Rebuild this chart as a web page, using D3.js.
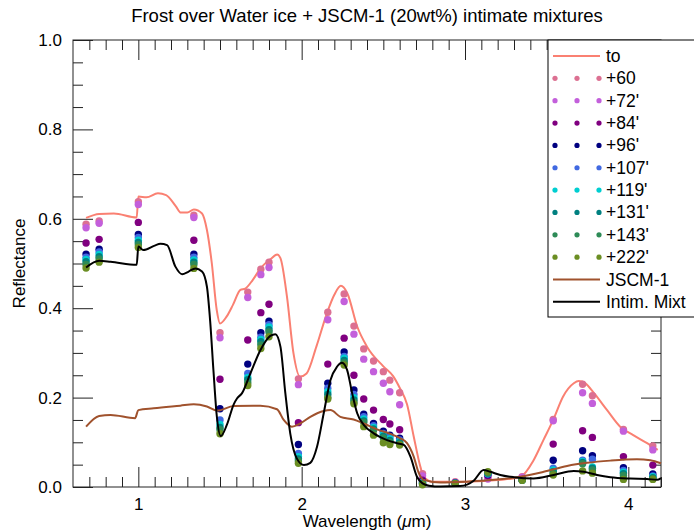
<!DOCTYPE html>
<html>
<head>
<meta charset="utf-8">
<script src="https://cdn.jsdelivr.net/npm/d3@7"></script>
<style>
    body { margin: 0; background: #fff; }
    svg { font-family: "Liberation Sans", Arial, sans-serif; }
</style>
</head>
<body>
<script>
// wavelengths (micron) of the frost measurements
var dotWaves = [0.68, 0.76, 1.00, 1.34, 1.50, 1.67, 1.75, 1.80, 1.98, 2.16, 2.26, 2.32, 2.38,
    2.44, 2.50, 2.54, 2.60, 2.74, 2.94, 3.14, 3.35, 3.54, 3.72, 3.78, 3.97, 4.15];

var ref60  = [0.588, 0.595, 0.638, 0.608, 0.345, 0.436, 0.487, 0.503, 0.242, 0.391, 0.432, 0.360, 0.309,
    0.282, 0.258, 0.239, 0.211, 0.030, 0.012, 0.020, 0.023, 0.151, 0.230, 0.204, 0.129, 0.092];
var ref72  = [0.580, 0.590, 0.632, 0.603, 0.334, 0.424, 0.475, 0.491, 0.229, 0.374, 0.415, 0.342, 0.286,
    0.258, 0.232, 0.213, 0.184, 0.025, 0.010, 0.018, 0.022, 0.148, 0.211, 0.187, 0.125, 0.083];
var ref84  = [0.546, 0.554, 0.592, 0.552, 0.241, 0.329, 0.390, 0.409, 0.144, 0.275, 0.333, 0.250, 0.197,
    0.172, 0.151, 0.141, 0.128, 0.015, 0.009, 0.025, 0.017, 0.096, 0.126, 0.111, 0.068, 0.049];
var ref96  = [0.521, 0.532, 0.565, 0.521, 0.175, 0.275, 0.345, 0.371, 0.095, 0.232, 0.302, 0.217, 0.163,
    0.142, 0.125, 0.116, 0.109, 0.012, 0.009, 0.028, 0.016, 0.060, 0.081, 0.070, 0.043, 0.029];
var ref107 = [0.514, 0.526, 0.558, 0.514, 0.150, 0.254, 0.335, 0.363, 0.075, 0.221, 0.292, 0.207, 0.157,
    0.137, 0.120, 0.112, 0.105, 0.010, 0.009, 0.029, 0.016, 0.042, 0.060, 0.062, 0.037, 0.025];
var ref119 = [0.509, 0.520, 0.552, 0.508, 0.140, 0.245, 0.330, 0.358, 0.068, 0.213, 0.288, 0.200, 0.152,
    0.133, 0.117, 0.108, 0.102, 0.009, 0.008, 0.030, 0.016, 0.038, 0.057, 0.045, 0.033, 0.023];
var ref131 = [0.504, 0.515, 0.547, 0.503, 0.133, 0.240, 0.325, 0.352, 0.063, 0.207, 0.283, 0.195, 0.148,
    0.130, 0.113, 0.104, 0.099, 0.008, 0.008, 0.031, 0.015, 0.034, 0.055, 0.042, 0.030, 0.021];
var ref143 = [0.498, 0.510, 0.542, 0.498, 0.128, 0.233, 0.318, 0.347, 0.058, 0.200, 0.278, 0.190, 0.145,
    0.127, 0.110, 0.100, 0.096, 0.007, 0.008, 0.032, 0.015, 0.030, 0.052, 0.038, 0.026, 0.019];
var ref222 = [0.490, 0.503, 0.536, 0.489, 0.119, 0.227, 0.310, 0.336, 0.053, 0.197, 0.273, 0.186, 0.135,
    0.116, 0.099, 0.095, 0.094, 0.005, 0.008, 0.034, 0.015, 0.027, 0.036, 0.031, 0.017, 0.017];

var dotNames = ["+60", "+72'", "+84'", "+96'", "+107'", "+119'", "+131'", "+143'", "+222'"];
var dotColors = ["#dc7092", "#c35fdb", "#800080", "#000080", "#4169e1", "#00ced1", "#008080", "#2e8b57", "#6b8e23"];
var dotValues = [ref60, ref72, ref84, ref96, ref107, ref119, ref131, ref143, ref222];

// continuous spectra
var toWaves = [0.68, 0.76, 0.85, 0.99, 1.0, 1.05, 1.12, 1.17, 1.23, 1.26, 1.30, 1.34, 1.39, 1.42, 1.45,
    1.48, 1.50, 1.54, 1.58, 1.625, 1.655, 1.70, 1.75, 1.81, 1.85, 1.87, 1.91, 1.95, 1.99, 2.03, 2.09,
    2.155, 2.20, 2.24, 2.28, 2.34, 2.40, 2.50, 2.56, 2.60, 2.645, 2.686, 2.727, 2.747, 2.80, 3.01, 3.22,
    3.34, 3.42, 3.48, 3.54, 3.60, 3.666, 3.696, 3.737, 3.79, 3.87, 3.95, 4.03, 4.115, 4.18];
var toRefl = [0.602, 0.611, 0.612, 0.603, 0.650, 0.648, 0.657, 0.653, 0.628, 0.614, 0.614, 0.621, 0.612,
    0.575, 0.500, 0.396, 0.366, 0.381, 0.408, 0.441, 0.444, 0.463, 0.490, 0.510, 0.520, 0.512, 0.426,
    0.299, 0.247, 0.254, 0.314, 0.389, 0.430, 0.450, 0.433, 0.359, 0.314, 0.270, 0.248, 0.222, 0.185,
    0.113, 0.045, 0.023, 0.012, 0.012, 0.016, 0.023, 0.060, 0.105, 0.150, 0.202, 0.232, 0.237, 0.232,
    0.210, 0.172, 0.135, 0.116, 0.098, 0.083];

var jscWaves = [0.68, 0.76, 0.83, 0.98, 1.0, 1.094, 1.257, 1.339, 1.42, 1.482, 1.584, 1.706, 1.747, 1.849,
    1.89, 1.94, 1.99, 2.053, 2.135, 2.176, 2.237, 2.318, 2.38, 2.462, 2.543, 2.604, 2.645, 2.686, 2.717,
    2.747, 2.85, 3.01, 3.176, 3.339, 3.482, 3.625, 3.747, 3.89, 4.053, 4.135, 4.2];
var jscRefl = [0.135, 0.159, 0.161, 0.154, 0.172, 0.176, 0.182, 0.185, 0.180, 0.171, 0.181, 0.182, 0.182,
    0.174, 0.150, 0.135, 0.142, 0.157, 0.170, 0.172, 0.157, 0.151, 0.142, 0.129, 0.119, 0.109, 0.098,
    0.068, 0.031, 0.016, 0.010, 0.012, 0.016, 0.023, 0.034, 0.047, 0.054, 0.059, 0.062, 0.060, 0.053];

var mixWaves = [0.68, 0.76, 0.83, 0.99, 1.0, 1.03, 1.10, 1.135, 1.176, 1.227, 1.268, 1.308, 1.349, 1.39,
    1.42, 1.44, 1.46, 1.48, 1.505, 1.543, 1.584, 1.604, 1.635, 1.686, 1.747, 1.808, 1.839, 1.87, 1.90,
    1.93, 1.97, 2.014, 2.053, 2.094, 2.135, 2.176, 2.216, 2.247, 2.278, 2.309, 2.34, 2.38, 2.441, 2.523,
    2.584, 2.625, 2.666, 2.706, 2.74, 2.78, 2.85, 2.97, 3.053, 3.114, 3.155, 3.216, 3.298, 3.42, 3.543,
    3.666, 3.727, 3.808, 3.89, 4.012, 4.115, 4.176, 4.2];
var mixRefl = [0.491, 0.506, 0.504, 0.497, 0.538, 0.530, 0.540, 0.544, 0.541, 0.493, 0.476, 0.482, 0.489,
    0.482, 0.448, 0.370, 0.260, 0.160, 0.114, 0.140, 0.185, 0.198, 0.210, 0.254, 0.306, 0.338, 0.342,
    0.314, 0.210, 0.120, 0.064, 0.049, 0.054, 0.090, 0.165, 0.239, 0.269, 0.278, 0.262, 0.210, 0.165,
    0.139, 0.120, 0.105, 0.098, 0.094, 0.068, 0.023, 0.008, 0.003, 0.001, 0.002, 0.014, 0.038, 0.034,
    0.027, 0.022, 0.019, 0.027, 0.036, 0.034, 0.027, 0.022, 0.019, 0.018, 0.016, 0.020];

var xMajor = [1, 2, 3, 4];
var yMajor = [0, 0.2, 0.4, 0.6, 0.8, 1.0];

var W = 694, H = 531;
var margin = {left: 73, right: 33, top: 40, bottom: 44};
var axisColor = "#222";

var svg = d3.select("body").append("svg")
    .attr("width", W)
    .attr("height", H);

var x = d3.scaleLinear().domain([0.6, 4.2]).range([margin.left, W - margin.right]);
var y = d3.scaleLinear().domain([0, 1]).range([H - margin.bottom, margin.top]);

var xMinor = d3.range(7, 43).map(function (d) { return d / 10; }).filter(function (d) { return d % 1 !== 0; });
var yMinor = d3.range(1, 20).filter(function (d) { return d % 4 !== 0; }).map(function (d) { return d / 20; });

function addAxis(axis, tx, ty) {
    var g = svg.append("g")
        .attr("transform", "translate(" + tx + "," + ty + ")")
        .call(axis);
    g.select(".domain").remove();
    g.selectAll(".tick line").attr("stroke", axisColor);
    g.selectAll("text")
        .attr("fill", "#000")
        .style("font-size", "17px");
    return g;
}

var x0 = margin.left, x1 = W - margin.right, y0 = H - margin.bottom, y1 = margin.top;

// major + minor ticks on all four sides, pointing inward
addAxis(d3.axisBottom(x).tickValues(xMajor).tickSize(-20).tickPadding(11).tickFormat(d3.format("d")), 0, y0);
addAxis(d3.axisBottom(x).tickValues(xMinor).tickSize(-10).tickFormat(""), 0, y0);
addAxis(d3.axisTop(x).tickValues(xMajor).tickSize(-20).tickFormat(""), 0, y1);
addAxis(d3.axisTop(x).tickValues(xMinor).tickSize(-10).tickFormat(""), 0, y1);
addAxis(d3.axisLeft(y).tickValues(yMajor).tickSize(-20).tickPadding(11).tickFormat(d3.format(".1f")), x0, 0);
addAxis(d3.axisLeft(y).tickValues(yMinor).tickSize(-10).tickFormat(""), x0, 0);
addAxis(d3.axisRight(y).tickValues(yMajor).tickSize(-20).tickFormat(""), x1, 0);
addAxis(d3.axisRight(y).tickValues(yMinor).tickSize(-10).tickFormat(""), x1, 0);

svg.append("rect")
    .attr("x", x0)
    .attr("y", y1)
    .attr("width", x1 - x0)
    .attr("height", y0 - y1)
    .attr("fill", "none")
    .attr("stroke", axisColor)
    .attr("stroke-width", 1);

function lineOf(waves, refl) {
    return d3.line()
        .x(function (d, i) { return x(waves[i]); })
        .y(function (d) { return y(d); })
        .curve(d3.curveMonotoneX)(refl);
}

function addLine(waves, refl, color) {
    svg.append("path")
        .attr("d", lineOf(waves, refl))
        .attr("fill", "none")
        .attr("stroke", color)
        .attr("stroke-width", 2)
        .attr("stroke-linejoin", "round");
}

addLine(toWaves, toRefl, "#fa8072");

dotValues.forEach(function (vals, k) {
    svg.append("g").selectAll("circle")
        .data(vals)
        .enter().append("circle")
        .attr("cx", function (d, i) { return x(dotWaves[i]); })
        .attr("cy", function (d) { return y(d); })
        .attr("r", 3.7)
        .attr("fill", dotColors[k]);
});

addLine(jscWaves, jscRefl, "#a0522d");
addLine(mixWaves, mixRefl, "#000");

// title and axis labels
svg.append("text")
    .attr("x", (x0 + x1) / 2)
    .attr("y", 22)
    .attr("text-anchor", "middle")
    .style("font-size", "18.5px")
    .text("Frost over Water ice + JSCM-1 (20wt%) intimate mixtures");

svg.append("text")
    .attr("transform", "translate(25," + ((y0 + y1) / 2) + ") rotate(-90)")
    .attr("text-anchor", "middle")
    .style("font-size", "17px")
    .text("Reflectance");

var xl = svg.append("text")
    .attr("x", (x0 + x1) / 2)
    .attr("y", 527)
    .attr("text-anchor", "middle")
    .style("font-size", "17px");
xl.append("tspan").text("Wavelength (");
xl.append("tspan").style("font-style", "italic").text("\u03bc");
xl.append("tspan").text("m)");

// legend box (sits over the top-right corner of the frame)
var lg = svg.append("g");
lg.append("rect")
    .attr("x", 548)
    .attr("y", 40)
    .attr("width", 160)
    .attr("height", 277)
    .attr("fill", "#fff")
    .attr("stroke", "#000")
    .attr("stroke-width", 1);

var rowH = 22.35, row0 = 56;
var legendRows = [{name: "to", color: "#fa8072", kind: "line"}]
    .concat(dotNames.map(function (n, k) { return {name: n, color: dotColors[k], kind: "dots"}; }))
    .concat([{name: "JSCM-1", color: "#a0522d", kind: "line"}, {name: "Intim. Mixt", color: "#000", kind: "line"}]);

legendRows.forEach(function (r, i) {
    var ry = row0 + i * rowH;
    if (r.kind === "line") {
        lg.append("line")
            .attr("x1", 553).attr("x2", 600)
            .attr("y1", ry).attr("y2", ry)
            .attr("stroke", r.color)
            .attr("stroke-width", 2);
    } else {
        [555, 577, 599].forEach(function (cx) {
            lg.append("circle")
                .attr("cx", cx).attr("cy", ry)
                .attr("r", 2.6)
                .attr("fill", r.color);
        });
    }
    lg.append("text")
        .attr("x", 606)
        .attr("y", ry + 6)
        .style("font-size", "17.5px")
        .text(r.name);
});
</script>
</body>
</html>
